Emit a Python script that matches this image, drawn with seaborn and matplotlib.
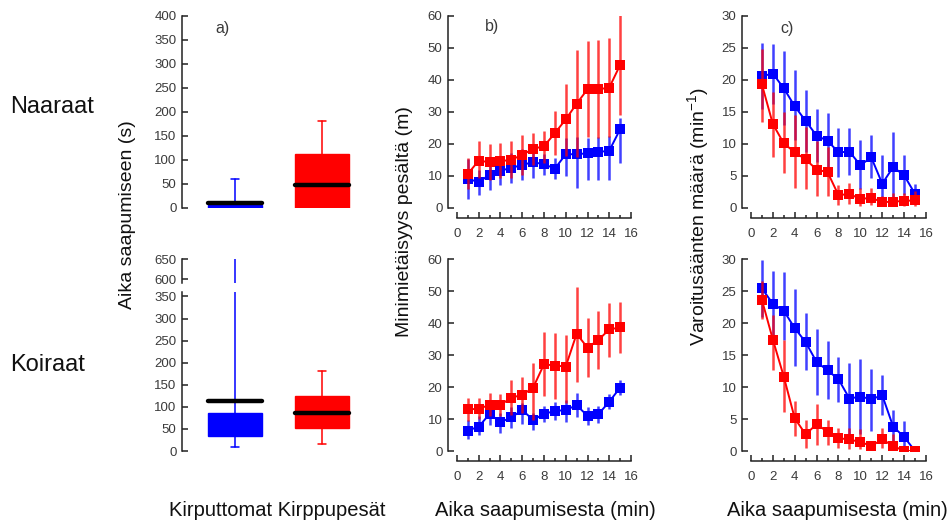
import numpy as np
import matplotlib
matplotlib.use("Agg")
import matplotlib.pyplot as plt
import seaborn as sns

# ---------------- data ----------------
minutes = list(range(1, 16))

# b) minimum distance from nest (m), females (top) and males (bottom)
dist_f_blue = [9.1, 8.1, 10.4, 11.7, 12.5, 13.5, 14.3, 13.7, 12.3, 16.8, 16.8, 17.1, 17.5, 17.9, 24.6]
dist_f_blue_lo = [2.8, 4.2, 5.7, 7.3, 7.8, 8.6, 9.3, 10.4, 9.1, 9.9, 6.2, 8.8, 8.8, 8.8, 14.2]
dist_f_blue_hi = [15.4, 12.0, 15.1, 16.1, 17.2, 18.4, 19.3, 17.0, 15.5, 22.0, 22.3, 22.0, 22.3, 22.6, 28.0]
dist_f_red = [10.7, 14.8, 14.3, 14.6, 15.1, 16.6, 18.5, 19.3, 23.4, 27.7, 32.6, 37.1, 37.1, 37.6, 44.7]
dist_f_red_lo = [6.0, 9.3, 8.8, 9.3, 9.3, 10.4, 13.5, 14.0, 16.6, 16.1, 15.9, 22.1, 21.8, 22.2, 29.2]
dist_f_red_hi = [15.6, 20.8, 19.9, 20.2, 21.0, 22.8, 23.4, 24.1, 30.3, 38.9, 49.3, 52.1, 52.4, 53.0, 60.2]

dist_m_blue = [6.4, 7.6, 11.6, 9.0, 10.5, 12.8, 9.7, 11.6, 12.5, 12.8, 14.3, 11.0, 11.5, 15.4, 19.8]
dist_m_blue_lo = [3.8, 5.0, 8.1, 5.5, 7.1, 8.3, 6.6, 9.2, 9.7, 9.2, 10.7, 8.1, 8.6, 13.1, 17.5]
dist_m_blue_hi = [9.7, 10.9, 13.3, 11.8, 13.9, 14.9, 11.8, 14.2, 15.4, 15.9, 18.2, 13.9, 14.2, 17.8, 22.2]
dist_m_red = [13.0, 13.2, 14.4, 14.4, 16.7, 17.5, 19.8, 27.1, 26.7, 26.4, 36.6, 32.3, 34.7, 38.0, 38.6]
dist_m_red_lo = [9.5, 9.9, 10.8, 11.0, 11.2, 12.0, 9.7, 17.3, 16.3, 14.9, 21.7, 23.0, 25.5, 29.5, 30.6]
dist_m_red_hi = [16.5, 16.5, 18.0, 17.8, 22.2, 23.0, 27.6, 37.1, 36.8, 36.3, 51.4, 41.5, 43.9, 46.1, 46.7]

# c) alarm call rate (1/min), females (top) and males (bottom)
call_f_blue = [20.6, 21.0, 18.7, 15.9, 13.6, 11.3, 10.5, 8.7, 8.8, 6.7, 7.9, 3.8, 6.4, 5.1, 2.2]
call_f_blue_lo = [15.4, 16.3, 13.0, 10.6, 8.8, 7.2, 6.0, 4.9, 5.2, 2.9, 4.7, 1.6, 0.9, 2.1, 1.3]
call_f_blue_hi = [25.8, 25.7, 24.5, 21.5, 18.5, 15.4, 14.9, 12.5, 12.5, 10.6, 11.4, 8.3, 11.9, 8.3, 3.8]
call_f_red = [19.3, 13.1, 10.1, 8.7, 7.6, 6.0, 5.6, 2.0, 2.2, 1.4, 1.6, 0.9, 1.0, 1.1, 1.2]
call_f_red_lo = [13.5, 8.0, 5.4, 3.1, 2.9, 1.8, 1.8, 0.5, 0.7, 0.3, 0.4, 0.3, 0.3, 0.3, 0.3]
call_f_red_hi = [24.9, 18.2, 15.0, 14.5, 12.7, 10.4, 9.6, 3.6, 3.9, 3.1, 3.2, 1.8, 2.3, 2.3, 2.6]

call_m_blue = [25.4, 23.0, 21.9, 19.2, 17.0, 13.9, 12.6, 11.2, 8.2, 8.5, 8.1, 8.7, 3.8, 2.2, 0.0]
call_m_blue_lo = [21.0, 17.9, 17.4, 13.3, 12.6, 8.7, 8.2, 7.7, 2.3, 2.6, 3.1, 5.7, 1.6, 0.5, 0.0]
call_m_blue_hi = [29.8, 28.1, 27.9, 25.3, 21.5, 19.1, 17.2, 14.7, 13.8, 14.4, 12.8, 11.9, 6.4, 4.7, 0.0]
call_m_red = [23.6, 17.4, 11.6, 5.1, 2.6, 4.2, 3.0, 2.0, 1.8, 1.4, 0.8, 1.8, 0.8, 0.0, 0.0]
call_m_red_lo = [20.6, 12.6, 6.1, 2.3, 0.4, 1.0, 0.9, 0.5, 0.3, 0.3, 0.3, 0.5, 0.3, 0.0, 0.0]
call_m_red_hi = [26.5, 21.3, 17.4, 7.8, 4.8, 7.3, 4.9, 3.6, 3.6, 3.4, 1.6, 3.6, 2.6, 0.0, 0.0]

# a) time to arrival (s), box summaries: [whislo, q1, med, q3, whishi]
groups = ["Kirputtomat", "Kirppupesät"]
arrive_f_blue = [0, 0, 10, 7, 61]
arrive_f_red = [0, 0, 48, 112, 181]
arrive_m_blue = [9, 35, 113, 87, 650]
arrive_m_red = [15, 52, 87, 124, 182]

BLUE = "#0000ff"
RED = "#ff0000"
TXT = "#3a3a3a"

sns.set_style("ticks")
plt.rcParams['font.family'] = ['Liberation Sans', 'DejaVu Sans']
plt.rcParams['mathtext.fontset'] = 'custom'
plt.rcParams['mathtext.rm'] = 'Liberation Sans'
plt.rcParams['mathtext.it'] = 'Liberation Sans:italic'
plt.rcParams['axes.edgecolor'] = '#222222'
plt.rcParams['axes.linewidth'] = 1.1

W, H = 953, 524
fig = plt.figure(figsize=(W / 100, H / 100), dpi=100)


def px_axes(l, t, r, b):
    return fig.add_axes([l / W, 1 - b / H, (r - l) / W, (b - t) / H])


def fig_text(x, y, s, **kw):
    fig.text(x / W, 1 - y / H, s, **kw)


def style_y(ax, ticks):
    ax.set_yticks(ticks)
    ax.tick_params(axis='y', direction='in', length=4, width=1.1, pad=4,
                   labelsize=9.5, labelcolor=TXT, color='#222222')
    ax.set_facecolor('none')


def box_stats(vals, label):
    lo, q1, med, q3, hi = vals
    return dict(whislo=lo, q1=q1, med=med, q3=q3, whishi=hi, label=label, fliers=[])


def draw_boxes(ax, blue_vals, red_vals):
    out = ax.bxp([box_stats(blue_vals, groups[0]), box_stats(red_vals, groups[1])],
                 positions=[0, 1], widths=0.62, capwidths=0.1, showfliers=False,
                 patch_artist=True,
                 medianprops=dict(color='black', linewidth=3.2, solid_capstyle='round'))
    for i, c in enumerate([BLUE, RED]):
        out['boxes'][i].set_facecolor(c)
        out['boxes'][i].set_edgecolor(c)
        for art in out['whiskers'][2 * i:2 * i + 2] + out['caps'][2 * i:2 * i + 2]:
            art.set_color(c)
            art.set_linewidth(1.1)
    ax.set_xlim(-0.609, 1.552)
    ax.set_xticks([])
    for s in ['top', 'right', 'bottom']:
        ax.spines[s].set_visible(False)
    return out


def draw_lines(ax, blue, blue_lo, blue_hi, red, red_lo, red_hi, ymax, ystep):
    for y, lo, hi, c in [(blue, blue_lo, blue_hi, BLUE), (red, red_lo, red_hi, RED)]:
        y = np.array(y)
        yerr = [y - np.array(lo), np.array(hi) - y]
        ax.errorbar(minutes, y, yerr=yerr, fmt='none', ecolor=c, elinewidth=1.8,
                    alpha=0.75, capsize=0)
        sns.lineplot(x=minutes, y=y, ax=ax, color=c, marker='s', markersize=6.5,
                     markeredgewidth=0, linewidth=1.4, errorbar=None)
    ax.set_xlim(0, 16)
    ax.set_ylim(0, ymax)
    style_y(ax, np.arange(0, ymax + 0.1, ystep))
    ax.set_xticks(range(0, 17, 2))
    ax.set_xticks(range(1, 17, 2), minor=True)
    ax.tick_params(axis='x', which='major', direction='in', length=4, width=1.1,
                   pad=7, labelsize=9.5, labelcolor=TXT, color='#222222')
    ax.tick_params(axis='x', which='minor', direction='in', length=2, width=1.1,
                   color='#222222')
    ax.spines['left'].set_position(('outward', 6.5))
    ax.spines['bottom'].set_position(('outward', 7.2))
    sns.despine(ax=ax)
    ax.set_xlabel('')
    ax.set_ylabel('')


# ---------------- panel a ----------------
ax_a1 = px_axes(182, 16, 370, 208)
draw_boxes(ax_a1, arrive_f_blue, arrive_f_red)
ax_a1.set_ylim(0, 400)
style_y(ax_a1, range(0, 401, 50))

ax_a2 = px_axes(182, 292, 370, 451)
draw_boxes(ax_a2, arrive_m_blue, arrive_m_red)
ax_a2.set_ylim(0, 360)
style_y(ax_a2, range(0, 351, 50))

ax_a3 = px_axes(182, 259, 370, 283)
parts = draw_boxes(ax_a3, arrive_m_blue, arrive_m_red)
parts['caps'][1].set_visible(False)
ax_a3.set_ylim(590, 650)
style_y(ax_a3, [600, 650])

# ---------------- panels b and c ----------------
ax_b1 = px_axes(457, 16, 631, 208)
draw_lines(ax_b1, dist_f_blue, dist_f_blue_lo, dist_f_blue_hi,
           dist_f_red, dist_f_red_lo, dist_f_red_hi, 60, 10)
ax_b2 = px_axes(457, 259, 631, 451)
draw_lines(ax_b2, dist_m_blue, dist_m_blue_lo, dist_m_blue_hi,
           dist_m_red, dist_m_red_lo, dist_m_red_hi, 60, 10)
ax_c1 = px_axes(751, 16, 926, 208)
draw_lines(ax_c1, call_f_blue, call_f_blue_lo, call_f_blue_hi,
           call_f_red, call_f_red_lo, call_f_red_hi, 30, 5)
ax_c2 = px_axes(751, 259, 926, 451)
draw_lines(ax_c2, call_m_blue, call_m_blue_lo, call_m_blue_hi,
           call_m_red, call_m_red_lo, call_m_red_hi, 30, 5)

# ---------------- texts ----------------
fig_text(223, 28, "a)", fontsize=11.5, ha='center', va='center', color=TXT)
fig_text(492, 27, "b)", fontsize=11.5, ha='center', va='center', color=TXT)
fig_text(787, 28, "c)", fontsize=11.5, ha='center', va='center', color=TXT)

fig_text(10, 107, "Naaraat", fontsize=17, ha='left', va='center', color='#111111')
fig_text(10, 365, "Koiraat", fontsize=17, ha='left', va='center', color='#111111')

fig_text(128, 215, "Aika saapumiseen (s)", fontsize=14, rotation=90,
         ha='center', va='center', color='#111111')
fig_text(405, 222, "Minimietäisyys pesältä (m)", fontsize=14, rotation=90,
         ha='center', va='center', color='#111111')
fig_text(698, 217, r"Varoitusäänten määrä (min$^{-1}$)", fontsize=14, rotation=90,
         ha='center', va='center', color='#111111')

fig_text(277, 510, "Kirputtomat Kirppupesät", fontsize=14.5, ha='center', va='center',
         color='#111111')
fig_text(545, 510, "Aika saapumisesta (min)", fontsize=14.5, ha='center', va='center',
         color='#111111')
fig_text(837, 510, "Aika saapumisesta (min)", fontsize=14.5, ha='center', va='center',
         color='#111111')

fig.savefig("out.png", dpi=100, facecolor='white')
